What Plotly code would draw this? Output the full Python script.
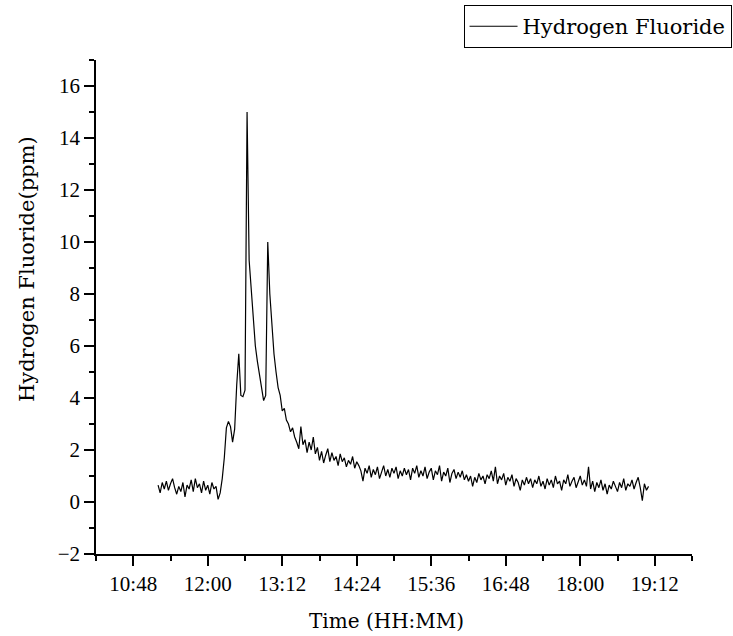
import pandas as pd
import plotly.graph_objects as go

# ---- data ----
series_name = "Hydrogen Fluoride"
start_time = "2023-01-01 11:12"
step_minutes = 2
hf_ppm = [
    # 11:12 - 12:10
    0.65, 0.35, 0.75, 0.50, 0.80, 0.45, 0.70, 0.90, 0.55, 0.30,
    0.60, 0.40, 0.75, 0.20, 0.65, 0.50, 0.85, 0.40, 0.90, 0.55,
    0.70, 0.35, 0.80, 0.45, 0.65, 0.30, 0.75, 0.50, 0.60, 0.10,
    # 12:12 - 13:10
    0.35, 0.90, 1.70, 2.85, 3.10, 2.90, 2.30, 2.80, 4.50, 5.70,
    4.10, 4.05, 4.30, 15.0, 9.30, 8.10, 6.90, 6.00, 5.40, 4.90,
    4.40, 3.90, 4.10, 10.0, 8.00, 6.60, 5.70, 5.00, 4.40, 4.10,
    # 13:12 - 14:10
    3.50, 3.60, 3.15, 3.00, 2.70, 2.85, 2.50, 2.30, 2.05, 2.90,
    2.20, 2.40, 1.90, 2.30, 2.00, 2.50, 1.85, 2.10, 1.60, 1.95,
    1.50, 1.80, 2.05, 1.55, 1.90, 1.60, 1.75, 1.40, 1.85, 1.55,
    # 14:12 - 15:10
    1.70, 1.35, 1.60, 1.45, 1.75, 1.30, 1.55, 1.40, 1.20, 0.80,
    1.30, 1.10, 1.40, 0.95, 1.25, 1.05, 1.35, 0.90, 1.20, 1.40,
    1.00, 1.25, 0.95, 1.30, 1.10, 1.35, 0.90, 1.20, 1.00, 1.30,
    # 15:12 - 16:10
    1.05, 1.25, 0.85, 1.30, 1.10, 1.40, 0.95, 1.20, 1.00, 1.35,
    0.90, 1.15, 1.30, 0.85, 1.20, 1.05, 1.40, 0.80, 1.15, 1.00,
    1.30, 0.75, 1.10, 1.25, 0.90, 1.15, 0.95, 1.20, 0.85, 1.05,
    # 16:12 - 17:10
    0.80, 1.00, 0.60, 0.95, 0.75, 1.10, 0.85, 1.00, 0.70, 1.05,
    0.90, 1.20, 0.80, 1.35, 0.70, 1.00, 0.85, 1.10, 0.65, 0.95,
    0.80, 1.05, 0.60, 0.90, 0.75, 0.45, 0.85, 0.65, 0.95, 0.70,
    # 17:12 - 18:10
    0.90, 0.55, 0.85, 0.70, 1.00, 0.60, 0.80, 0.50, 0.90, 0.65,
    0.85, 0.55, 1.00, 0.70, 0.80, 0.45, 0.85, 0.70, 1.05, 0.60,
    0.80, 0.95, 0.55, 0.75, 1.00, 0.65, 0.85, 0.60, 1.35, 0.50,
    # 18:12 - 19:06
    0.80, 0.40, 0.75, 0.55, 0.85, 0.45, 0.70, 0.30, 0.65, 0.50,
    0.80, 0.60, 0.40, 0.75, 0.55, 0.90, 0.45, 0.70, 0.60, 0.85,
    0.50, 0.75, 0.95, 0.55, 0.05, 0.70, 0.45, 0.60,
]
times = pd.date_range(start=start_time, periods=len(hf_ppm), freq=f"{step_minutes}min")

x_range = ["2023-01-01 10:12", "2023-01-01 19:48"]
x_tick0 = "2023-01-01 10:48"
x_dtick_min = 72
y_range = [-2, 17]
y_title = "Hydrogen Fluoride(ppm)"
x_title = "Time (HH:MM)"

TEXT_FONT = "DejaVu Serif"
TICK_FONT = "Liberation Serif"

W, H = 733, 636
ML, MR, MT, MB = 96, 41, 60, 82
plot_w = W - ML - MR
plot_h = H - MT - MB

fig = go.Figure()
fig.add_trace(go.Scatter(
    x=times, y=hf_ppm, mode="lines", name=series_name,
    line=dict(color="black", width=1.2),
))

fig.update_layout(
    width=W, height=H,
    margin=dict(l=ML, r=MR, t=MT, b=MB, autoexpand=False),
    paper_bgcolor="white", plot_bgcolor="white",
    font=dict(family=TEXT_FONT, color="black", size=18),
    showlegend=True,
    legend=dict(
        xref="container", yref="container",
        x=0.998, xanchor="right", y=0.992, yanchor="top",
        bordercolor="black", borderwidth=1, bgcolor="white",
        font=dict(family=TEXT_FONT, size=21, color="black"),
        itemwidth=48, tracegroupgap=0,
    ),
)

fig.update_xaxes(
    type="date", range=x_range,
    tick0=x_tick0, dtick=x_dtick_min * 60 * 1000, tickformat="%H:%M",
    tickangle=0,
    showline=True, linecolor="black", linewidth=1.5,
    ticks="outside", ticklen=10, tickwidth=1.5, tickcolor="black",
    minor=dict(ticks="outside", ticklen=5, tickwidth=1.5, tickcolor="black",
               dtick=x_dtick_min * 30 * 1000, tick0=x_range[0], showgrid=False),
    showgrid=False, zeroline=False, mirror=False,
    tickfont=dict(family=TICK_FONT, size=21),
)
fig.update_yaxes(
    range=y_range, tick0=0, dtick=2,
    showline=True, linecolor="black", linewidth=1.5,
    ticks="outside", ticklen=10, tickwidth=1.5, tickcolor="black",
    minor=dict(ticks="outside", ticklen=5, tickwidth=1.5, tickcolor="black",
               dtick=1, showgrid=False),
    showgrid=False, zeroline=False, mirror=False,
    tickfont=dict(family=TICK_FONT, size=21),
)

# axis titles placed where the reference has them
fig.add_annotation(
    text=y_title, textangle=-90, showarrow=False,
    xref="paper", yref="paper",
    x=(27 - ML) / plot_w, y=(H - MB - 269) / plot_h,
    xanchor="center", yanchor="middle",
    font=dict(family=TEXT_FONT, size=21, color="black"),
)
fig.add_annotation(
    text=x_title, showarrow=False,
    xref="paper", yref="paper",
    x=(386 - ML) / plot_w, y=-(621 - (H - MB)) / plot_h,
    xanchor="center", yanchor="middle",
    font=dict(family=TEXT_FONT, size=20, color="black"),
)

# remove the browser's default 8px body margin so the figure sits at (0, 0)
fig.write_html(
    "out.html",
    config={"displayModeBar": False},
    post_script="document.body.style.margin='0';document.body.style.overflow='hidden';",
)
